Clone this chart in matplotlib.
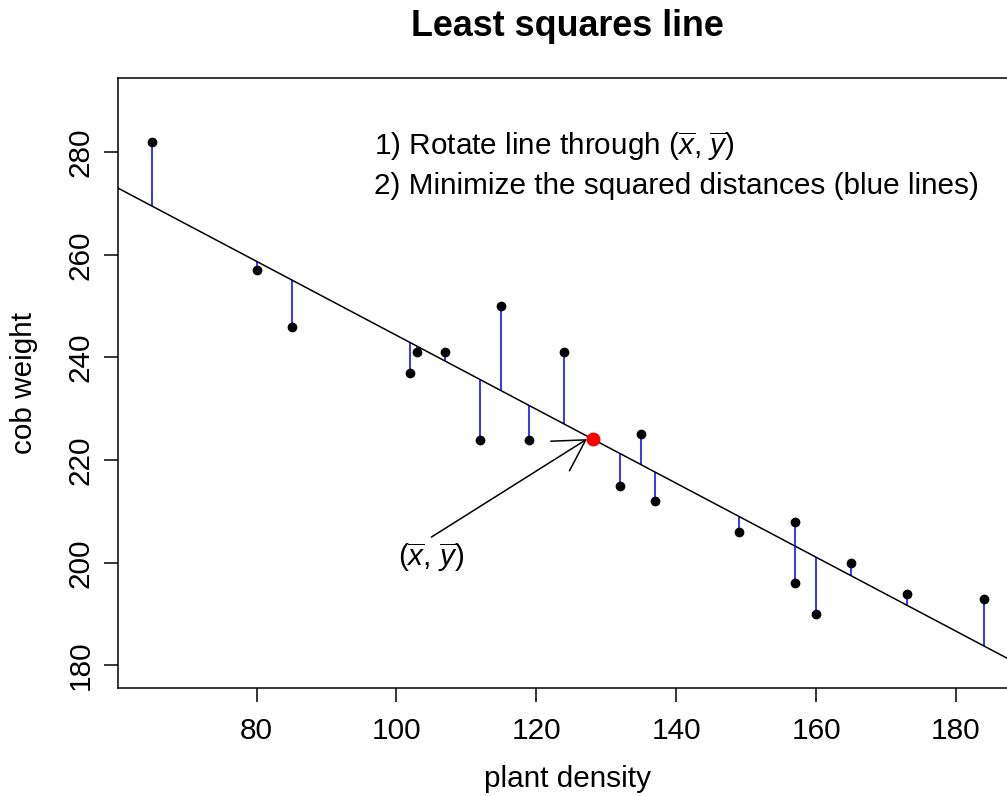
import numpy as np
import matplotlib
matplotlib.use("Agg")
import matplotlib.pyplot as plt

plt.rcParams['font.family'] = ['Liberation Sans', 'DejaVu Sans']
plt.rcParams['mathtext.fontset'] = 'custom'
plt.rcParams['mathtext.rm'] = 'Liberation Sans'
plt.rcParams['mathtext.it'] = 'Liberation Sans:italic'

# plant density vs cob weight
density = np.array([65, 80, 85, 102, 103, 107, 112, 115, 119, 124,
                    132, 135, 137, 149, 157, 157, 160, 165, 173, 184])
weight = np.array([282, 257, 246, 237, 241, 241, 224, 250, 224, 241,
                   215, 225, 212, 206, 208, 196, 190, 200, 194, 193])

xticks = [80, 100, 120, 140, 160, 180]
yticks = [180, 200, 220, 240, 260, 280]

# least squares fit
slope, icept = np.polyfit(density, weight, 1)
fitted = icept + slope * density
xbar, ybar = density.mean(), weight.mean()

fs = 21.45
fig = plt.figure(figsize=(10.07, 7.96), dpi=100)
ax = fig.add_axes([0.1175, 0.1357, 0.8927, 0.7660])

ax.vlines(density, weight, fitted, colors='blue', lw=1.1, zorder=2)
ax.axline((xbar, ybar), slope=slope, color='black', lw=1.1, zorder=2)
ax.plot(density, weight, 'o', color='black', ms=6, zorder=3)
ax.plot([xbar], [ybar], 'o', color='red', ms=9, zorder=4)

ax.annotate('', xy=(xbar - 0.8, ybar), xytext=(105, 205),
            arrowprops=dict(arrowstyle='->,head_length=21.8,head_width=12.6',
                            mutation_scale=1, shrinkA=0, shrinkB=0,
                            lw=1.1, color='black'))
ax.text(105, 201, r'($\overline{x}$, $\overline{y}$)', fontsize=fs,
        ha='center', va='center')

ax.text(96.85, 281.0, r'1) Rotate line through ($\overline{x}$, $\overline{y}$)',
        fontsize=fs, ha='left', va='center')
ax.text(96.85, 273.4, '2) Minimize the squared distances (blue lines)',
        fontsize=fs, ha='left', va='center')

ax.set_xlim(60.24, 188.76)
ax.set_ylim(175.6, 294.4)
ax.set_xticks(xticks)
ax.set_yticks(yticks)
ax.set_yticklabels([str(t) for t in yticks], rotation=90, va='center')
ax.tick_params(length=10, width=1.1, labelsize=fs)
ax.tick_params(axis='x', pad=10.7)
ax.tick_params(axis='y', pad=7)
for s in ax.spines.values():
    s.set_linewidth(1.1)

ax.set_xlabel('plant density', fontsize=fs, va='top')
ax.xaxis.set_label_coords(0.5, -0.1263)
ax.set_ylabel('cob weight', fontsize=fs, va='baseline')
ax.yaxis.set_label_coords(-0.0963, 0.5)
fig.text(0.5637, 1 - 35.6 / 796, 'Least squares line', fontsize=25.8,
         fontweight='bold', ha='center', va='baseline')

fig.savefig('out.png', dpi=100)
